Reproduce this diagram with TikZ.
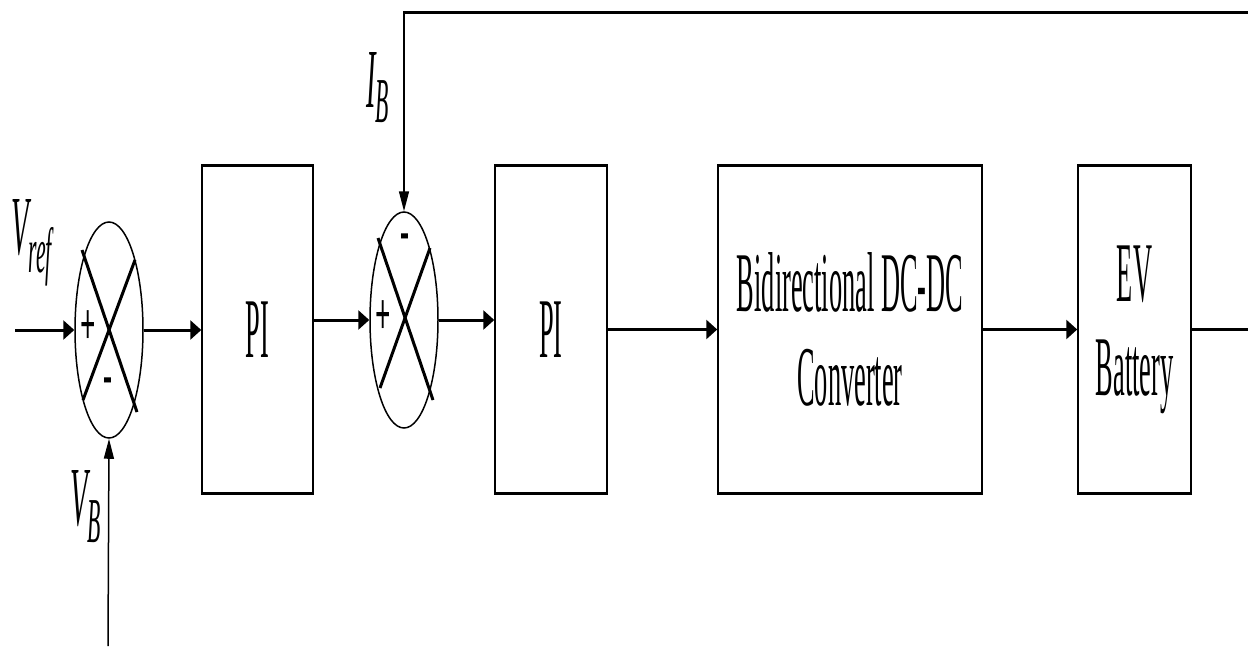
\documentclass[tikz,border=0pt]{standalone}
\usepackage{fontspec}
\setmainfont{Liberation Serif}
\newfontfamily\cnd[FakeStretch=0.31]{Liberation Serif}
\newfontfamily\cndi[FakeStretch=0.34]{Liberation Serif}
\newfontfamily\cnds[FakeStretch=0.45]{Liberation Serif}
\usetikzlibrary{shapes.geometric,arrows.meta}
\newcommand\lowsub[2]{\raisebox{-#1pt}{\fontsize{64}{64}\selectfont #2}}
\begin{document}
\begin{tikzpicture}[x=1pt,y=-1pt,
  blk/.style={draw, line width=1.5pt, minimum height=327pt, inner sep=0pt,
    font=\cnd\fontsize{85}{94}\selectfont, align=center},
  sumnode/.style={draw, ellipse, line width=1.5pt, minimum width=68pt,
    minimum height=216pt, inner sep=0pt},
  topedge/.style={line width=3pt},
  xline/.style={line width=3pt},
  arr/.style={line width=3pt, -{Triangle[length=11pt,width=19pt]}},
  thinarr/.style={line width=1.5pt, -{Triangle[length=20pt,width=10pt]}},
  sgn/.style={font=\cnds\bfseries\fontsize{60}{60}\selectfont, inner sep=0pt},
  lbl/.style={font=\cndi\itshape\fontsize{84}{84}\selectfont, inner sep=0pt}
]
\useasboundingbox (0,0) rectangle (1248,646);

% blocks
\node[blk, minimum width=111pt] (pi1) at (257.5,329.5) {PI};
\node[blk, minimum width=112pt] (pi2) at (551,329.5) {PI};
\node[blk, minimum width=264pt] (conv) at (850,329.5) {Bidirectional DC-DC\\Converter};
\node[blk, minimum width=113pt] (ev) at (1134.5,329.5) {EV\\Battery};
\foreach \b in {pi1,pi2,conv,ev}{
  \draw[topedge] (\b.north west) -- (\b.north east);
  \draw[topedge] (\b.south west) -- (\b.south east);
}

% summing junctions
\node[sumnode] (s1) at (109,330) {};
\node[sumnode] (s2) at (404,320) {};
\draw[xline] ([shift={(-27,-80)}]s1.center) -- ([shift={(28,82)}]s1.center);
\draw[xline] ([shift={(26,-70)}]s1.center) -- ([shift={(-26,70)}]s1.center);
\draw[xline] ([shift={(-26,-82)}]s2.center) -- ([shift={(29,80)}]s2.center);
\draw[xline] ([shift={(26,-72)}]s2.center) -- ([shift={(-24,68)}]s2.center);

\node[sgn] (p1) at (88,328) {+};
\node[sgn] (m1) at (108,386) {-};
\node[sgn] (p2) at (383,318) {+};
\node[sgn] (m2) at (405,242) {-};

% labels
\node[lbl, anchor=base west] (lvref) at (11,254) {V\lowsub{18}{ref}};
\node[lbl, anchor=base west] (lvb) at (70,525) {V\lowsub{17}{B}};
\node[lbl, anchor=base west] (lib) at (366,107) {I\lowsub{15}{B}};

% coordinates
\coordinate (in) at (15,330);
\coordinate (vb) at (108,646);
\coordinate (out) at (1248,332);
\coordinate (fbR) at (1248,12);
\coordinate (fbC) at (404,12);

% connectors
\draw[arr] (in) -- (s1.west);
\draw[thinarr] (vb) -- (s1.south);
\draw[arr] (s1.east) -- (s1.east -| pi1.west);
\draw[arr] (s2.west -| pi1.east) -- (s2.west);
\draw[arr] (s2.east) -- (s2.east -| pi2.west);
\draw[arr] (pi2.east) -- (conv.west);
\draw[arr] (conv.east) -- (ev.west);
\draw[line width=3pt] (ev.east) -- (ev.east -| out);
\draw[line width=3pt] (fbR) -- ([xshift=-0.75pt]fbC);
\draw[thinarr] (fbC) -- (s2.north);
\end{tikzpicture}
\end{document}
